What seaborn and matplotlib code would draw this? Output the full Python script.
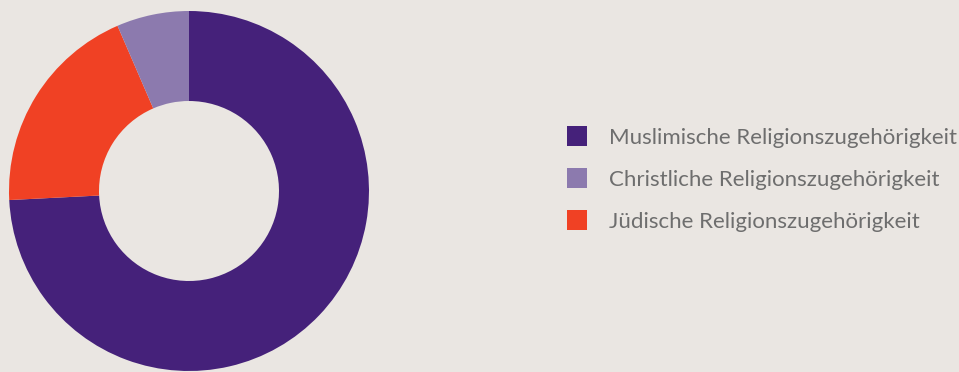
import matplotlib
matplotlib.use("Agg")
import matplotlib.pyplot as plt
import seaborn as sns
from matplotlib.patches import Rectangle

# Data (percent shares)
categories = ["Muslimische Religionszugehörigkeit",
              "Jüdische Religionszugehörigkeit",
              "Christliche Religionszugehörigkeit"]
values = [74.2, 19.3, 6.5]
colors = ["#45217A", "#F04124", "#8C7AAE"]
legend_order = ["Muslimische Religionszugehörigkeit",
                "Christliche Religionszugehörigkeit",
                "Jüdische Religionszugehörigkeit"]

BG = "#EAE6E2"
TEXT = "#6E6E6E"

sns.set_theme(style="white")
plt.rcParams['font.family'] = ['Lato', 'DejaVu Sans']

W, H = 959, 372
fig = plt.figure(figsize=(W / 100, H / 100), dpi=100, facecolor=BG)

cx, cy, r = 189, 191, 180
ax = fig.add_axes([(cx - r) / W, (H - cy - r) / H, 2 * r / W, 2 * r / H])
ax.set_facecolor(BG)
ax.pie(values, colors=colors, startangle=90, counterclock=False, radius=1,
       wedgeprops=dict(width=0.5, edgecolor="none", linewidth=0))
ax.set_xlim(-1, 1)
ax.set_ylim(-1, 1)
ax.set_aspect("equal")
ax.axis("off")

color_map = dict(zip(categories, colors))
y_centers = [136, 178, 219.5]
for name, yc in zip(legend_order, y_centers):
    fig.patches.append(Rectangle(((567) / W, (H - yc - 10) / H), 20 / W, 20 / H,
                                 transform=fig.transFigure, facecolor=color_map[name],
                                 edgecolor="none"))
    fig.text(609 / W, (H - yc) / H, name, fontsize=16, color=TEXT,
             va="center_baseline", ha="left")

fig.savefig("out.png", dpi=100, facecolor=BG)
